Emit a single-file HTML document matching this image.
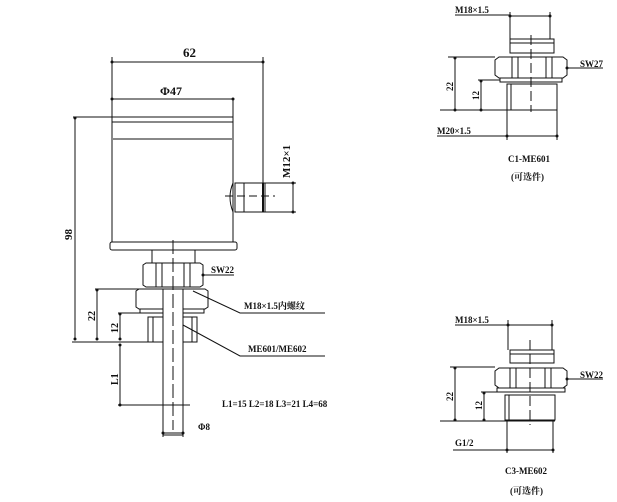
<!DOCTYPE html>
<html><head><meta charset="utf-8"><style>
html,body{margin:0;padding:0;background:#fff;}
svg{display:block;}
text{font-family:"Liberation Serif","Noto Serif CJK SC",serif;font-weight:bold;fill:#111;}
</style></head><body>
<svg width="617" height="502" viewBox="0 0 617 502" xmlns="http://www.w3.org/2000/svg">
<defs>
<marker id="a" viewBox="0 0 4 4" refX="2" refY="2" markerWidth="4" markerHeight="4"><circle cx="2" cy="2" r="1.5" fill="#111"/></marker>
</defs>
<g stroke="#111" stroke-width="1" fill="none">
<!-- main body -->
<rect x="112" y="117" width="121" height="125" fill="#fff"/>
<line x1="112" y1="122" x2="233" y2="122"/>
<line x1="112" y1="139" x2="233" y2="139" stroke="#888" stroke-width="2"/>
<rect x="110" y="242" width="127" height="8" rx="2" fill="#fff"/>
<rect x="152" y="250" width="43" height="13"/>
<!-- connector -->
<path d="M233 183 q-6 14 0 29"/>
<rect x="235" y="183" width="30" height="29"/>
<line x1="244" y1="183" x2="244" y2="212"/>
<line x1="263" y1="183" x2="263" y2="212" stroke-width="2"/>
<line x1="225" y1="196" x2="275" y2="196" stroke-dasharray="8,4"/>
<!-- nut -->
<path d="M143 265 l3-2 h54 l3 2 v20 l-3 2 h-54 l-3-2 z"/>
<line x1="156" y1="263" x2="156" y2="287"/><line x1="162" y1="263" x2="162" y2="287"/>
<line x1="184" y1="263" x2="184" y2="287"/><line x1="190" y1="263" x2="190" y2="287"/>
<path d="M136 291 l3-2 h66 l3 2 v16 l-3 2 h-66 l-3-2 z"/>
<rect x="140" y="309" width="64" height="4"/>
<rect x="148" y="317" width="49" height="25"/>
<line x1="153" y1="317" x2="153" y2="342"/>
<line x1="192" y1="317" x2="192" y2="342"/>
<rect x="163" y="289" width="20" height="146" fill="#fff"/>
<line x1="173" y1="240" x2="173" y2="430" stroke-dasharray="14,4"/>
<!-- dims main -->
<line x1="112" y1="57" x2="112" y2="117"/>
<line x1="263" y1="57" x2="263" y2="183"/>
<line x1="112" y1="62" x2="263" y2="62" marker-start="url(#a)" marker-end="url(#a)"/>
<line x1="112" y1="99" x2="233" y2="99" marker-start="url(#a)" marker-end="url(#a)"/>
<line x1="233" y1="99" x2="233" y2="117"/>
<line x1="73" y1="117" x2="112" y2="117"/>
<line x1="75" y1="118" x2="75" y2="339" marker-start="url(#a)" marker-end="url(#a)"/>
<line x1="72" y1="342" x2="160" y2="342"/>
<line x1="265" y1="183" x2="296" y2="183"/>
<line x1="265" y1="212" x2="296" y2="212"/>
<line x1="293" y1="183" x2="293" y2="212" marker-start="url(#a)" marker-end="url(#a)"/>
<line x1="95" y1="289" x2="140" y2="289"/>
<line x1="97" y1="290" x2="97" y2="339" marker-start="url(#a)" marker-end="url(#a)"/>
<line x1="118" y1="313" x2="140" y2="313"/>
<line x1="120" y1="314" x2="120" y2="339" marker-start="url(#a)" marker-end="url(#a)"/>
<line x1="120" y1="345" x2="120" y2="405" marker-start="url(#a)" marker-end="url(#a)"/>
<line x1="118" y1="405" x2="190" y2="405"/>
<line x1="163" y1="420" x2="163" y2="437"/><line x1="183" y1="420" x2="183" y2="437"/>
<line x1="163" y1="433" x2="183" y2="433" marker-start="url(#a)" marker-end="url(#a)"/>
<line x1="203" y1="275" x2="234" y2="275" marker-start="url(#a)"/>
<polyline points="193,291 240,313 325,313"/>
<polyline points="183,325 240,356 325,356"/>
<!-- right top -->
<rect x="510" y="39" width="44" height="14"/>
<line x1="510" y1="43" x2="554" y2="43"/>
<path d="M495 60 l4-3 h64 l4 3 v15 l-4 3 h-64 l-4-3 z"/>
<line x1="512" y1="57" x2="512" y2="78"/><line x1="518" y1="57" x2="518" y2="78"/>
<line x1="546" y1="57" x2="546" y2="78"/><line x1="552" y1="57" x2="552" y2="78"/>
<rect x="500" y="78" width="62" height="4"/>
<rect x="507" y="84" width="50" height="26"/>
<line x1="511" y1="84" x2="511" y2="110"/>
<line x1="531" y1="35" x2="531" y2="112" stroke-dasharray="10,4"/>
<line x1="455" y1="15" x2="510" y2="15"/>
<line x1="510" y1="16" x2="550" y2="16" marker-start="url(#a)" marker-end="url(#a)"/>
<line x1="510" y1="12" x2="510" y2="39"/><line x1="550" y1="12" x2="550" y2="39"/>
<line x1="448" y1="57" x2="495" y2="57"/>
<line x1="455" y1="58" x2="455" y2="110" marker-start="url(#a)" marker-end="url(#a)"/>
<line x1="478" y1="80" x2="500" y2="80"/>
<line x1="481" y1="81" x2="481" y2="110" marker-start="url(#a)" marker-end="url(#a)"/>
<line x1="440" y1="110" x2="557" y2="110"/>
<line x1="507" y1="110" x2="507" y2="140"/><line x1="557" y1="110" x2="557" y2="140"/>
<line x1="437" y1="136" x2="507" y2="136"/>
<line x1="507" y1="136" x2="557" y2="136" marker-start="url(#a)" marker-end="url(#a)"/>
<line x1="567" y1="68" x2="603" y2="68" marker-start="url(#a)"/>
<!-- right bottom -->
<rect x="510" y="350" width="44" height="13"/>
<line x1="510" y1="354" x2="554" y2="354"/>
<path d="M495 371 l4-3 h64 l4 3 v14 l-4 3 h-64 l-4-3 z"/>
<line x1="510" y1="368" x2="510" y2="388"/><line x1="516" y1="368" x2="516" y2="388"/>
<line x1="545" y1="368" x2="545" y2="388"/><line x1="551" y1="368" x2="551" y2="388"/>
<rect x="497" y="388" width="68" height="4"/>
<rect x="505" y="395" width="50" height="25"/>
<line x1="509" y1="395" x2="509" y2="420"/>
<line x1="530" y1="340" x2="530" y2="425" stroke-dasharray="10,4"/>
<line x1="455" y1="325" x2="508" y2="325"/>
<line x1="508" y1="325" x2="552" y2="325" marker-start="url(#a)" marker-end="url(#a)"/>
<line x1="508" y1="320" x2="508" y2="350"/><line x1="552" y1="320" x2="552" y2="350"/>
<line x1="450" y1="367" x2="495" y2="367"/>
<line x1="455" y1="368" x2="455" y2="420" marker-start="url(#a)" marker-end="url(#a)"/>
<line x1="481" y1="392" x2="500" y2="392"/>
<line x1="484" y1="393" x2="484" y2="420" marker-start="url(#a)" marker-end="url(#a)"/>
<line x1="440" y1="421" x2="555" y2="421"/>
<line x1="507" y1="421" x2="507" y2="453"/><line x1="553" y1="421" x2="553" y2="453"/>
<line x1="453" y1="450" x2="507" y2="450"/>
<line x1="507" y1="450" x2="553" y2="450" marker-start="url(#a)" marker-end="url(#a)"/>
<line x1="567" y1="379" x2="603" y2="379" marker-start="url(#a)"/>
</g>
<g font-size="11">
<text x="183" y="57" font-size="13">62</text>
<text x="160" y="95" font-size="12">Φ47</text>
<text transform="translate(72,240) rotate(-90)">98</text>
<text transform="translate(290,178) rotate(-90)" font-size="11">M12×1</text>
<text x="211" y="273" font-size="9">SW22</text>
<text x="244" y="309" font-size="9">M18×1.5内螺纹</text>
<text x="248" y="352" font-size="9">ME601/ME602</text>
<text transform="translate(95,321) rotate(-90)" font-size="10">22</text>
<text transform="translate(118,333) rotate(-90)" font-size="10">12</text>
<text transform="translate(118,385) rotate(-90)" font-size="10">L1</text>
<text x="222" y="407" font-size="9">L1=15  L2=18  L3=21  L4=68</text>
<text x="198" y="430" font-size="9">Φ8</text>
<text x="455" y="13" font-size="9">M18×1.5</text>
<text transform="translate(453,91) rotate(-90)" font-size="9">22</text>
<text transform="translate(479,100) rotate(-90)" font-size="9">12</text>
<text x="580" y="67" font-size="9">SW27</text>
<text x="437" y="134" font-size="9">M20×1.5</text>
<text x="508" y="162" font-size="9">C1-ME601</text>
<text x="511" y="180" font-size="9">(可选件)</text>
<text x="455" y="323" font-size="9">M18×1.5</text>
<text transform="translate(453,401) rotate(-90)" font-size="9">22</text>
<text transform="translate(482,410) rotate(-90)" font-size="9">12</text>
<text x="580" y="378" font-size="9">SW22</text>
<text x="455" y="446" font-size="9">G1/2</text>
<text x="505" y="474" font-size="9">C3-ME602</text>
<text x="510" y="494" font-size="9">(可选件)</text>
</g>
</svg>
</body></html>
